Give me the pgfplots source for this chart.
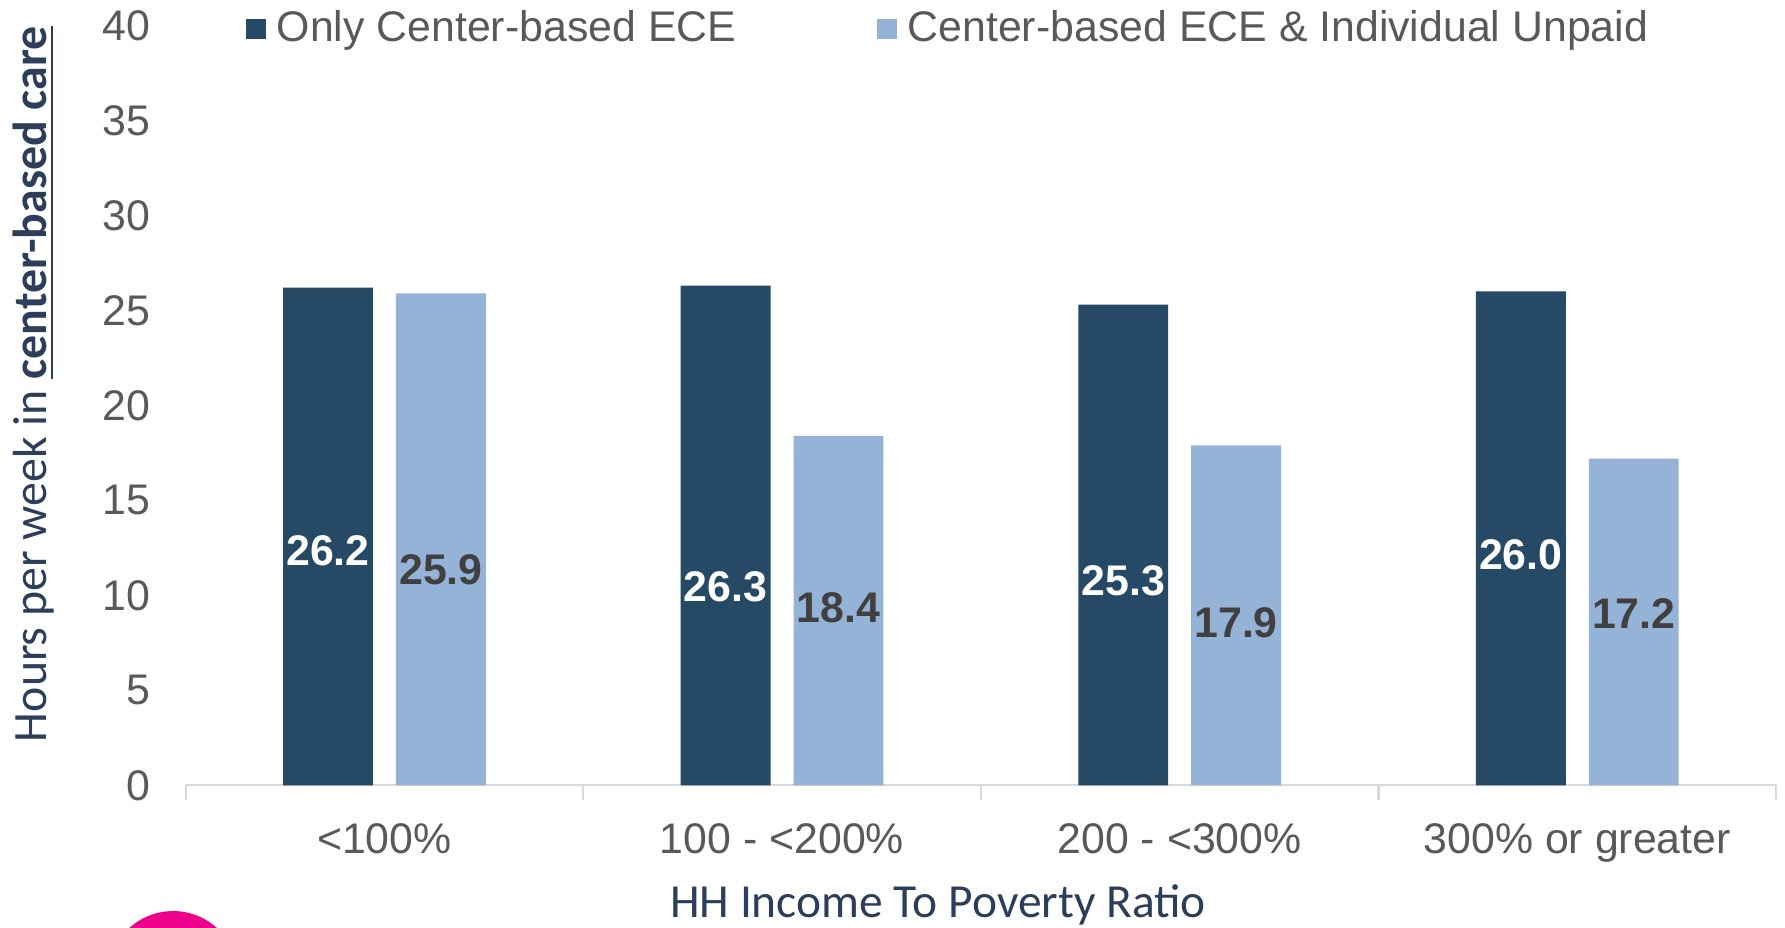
\documentclass[border=0pt]{standalone}
\usepackage{pgfplots}
\pgfplotsset{compat=1.18}
\usepackage{fontspec}
\setmainfont{Liberation Sans}
\newfontfamily\calib{Carlito}

\definecolor{darkbar}{HTML}{264A65}
\definecolor{lightbar}{HTML}{95B3D7}
\definecolor{ticktext}{HTML}{595959}
\definecolor{labtext}{HTML}{2D3E5A}
\definecolor{valgray}{HTML}{404040}
\definecolor{axisgray}{HTML}{D9D9D9}
\definecolor{logopink}{HTML}{EC008C}

\begin{document}
\begin{tikzpicture}
\useasboundingbox (0,0) rectangle (500pt,259.7pt);
\begin{axis}[
    at={(52pt,39.7pt)}, anchor=south west,
    scale only axis,
    width=445.5pt, height=212.9pt,
    xmin=-0.5, xmax=3.5,
    ymin=0, ymax=40,
    ytick={0,5,...,40},
    xtick={0,1,2,3},
    xticklabels={{<100\%},{100 - <200\%},{200 - <300\%},{300\% or greater}},
    minor xtick={-0.5,0.5,1.5,2.5,3.5},
    axis x line*=bottom,
    axis y line*=left,
    y axis line style={draw=none},
    x axis line style={draw=axisgray, line width=0.6pt},
    xtick style={draw=none},
    ytick style={draw=none},
    minor x tick style={draw=axisgray, line width=0.6pt},
    minor tick length=4pt,
    tick align=outside,
    /pgf/number format/assume math mode=true,
    ticklabel style={font=\fontsize{12}{14}\selectfont, text=ticktext},
    yticklabel style={xshift=-2pt},
    xticklabel style={yshift=-3pt},
    xlabel={HH Income To Poverty Ratio},
    xlabel style={at={(axis description cs:0.5,0)}, anchor=center,
        yshift=-33.5pt, xshift=-12pt,
        font=\calib\fontsize{13.3}{15}\selectfont, text=labtext},
    ylabel={Hours per week in \underline{\textbf{center-based care}}},
    ylabel style={at={(axis description cs:-0.0954,0.528)}, anchor=center,
        font=\calib\fontsize{13.4}{15}\selectfont, text=labtext},
    legend columns=2,
    legend style={at={(axis description cs:0.031,1)}, anchor=west, yshift=-1pt,
        draw=none, fill=none,
        font=\fontsize{12}{14}\selectfont, text=ticktext,
        /tikz/every even column/.append style={column sep=38pt},
        nodes={inner sep=1.5pt}},
    legend image code/.code={\fill[#1] (0pt,-2.7pt) rectangle (5.4pt,2.7pt);},
    /tikz/every odd column/.append style={column sep=1.6pt},
]
\addplot[ybar, bar width=0.226, bar shift=-0.142, fill=darkbar, draw=none]
    coordinates {(0,26.2) (1,26.3) (2,25.3) (3,26.0)};
\addlegendentry{Only Center-based ECE}
\addplot[ybar, bar width=0.226, bar shift=0.142, fill=lightbar, draw=none]
    coordinates {(0,25.9) (1,18.4) (2,17.9) (3,17.2)};
\addlegendentry{Center-based ECE \& Individual Unpaid}

% value labels, placed where the source put them inside the bars
\addplot[draw=none, forget plot, nodes near coords, point meta=explicit symbolic,
    every node near coord/.style={anchor=center, text=white,
        font=\bfseries\fontsize{12}{14}\selectfont}]
    coordinates {(-0.142,12.36)[26.2] (0.858,10.45)[26.3] (1.858,10.75)[25.3] (2.858,12.12)[26.0]};
\addplot[draw=none, forget plot, nodes near coords, point meta=explicit symbolic,
    every node near coord/.style={anchor=center, text=valgray,
        font=\bfseries\fontsize{12}{14}\selectfont}]
    coordinates {(0.142,11.34)[25.9] (1.142,9.37)[18.4] (2.142,8.54)[17.9] (3.142,9.07)[17.2]};
\end{axis}
\begin{scope}
\clip (0,0) rectangle (500pt,259.7pt);
\fill[logopink] (48.5pt,-13.7pt) circle (18.2pt);
\draw[white, opacity=0.5, line width=1.2pt] (44pt,-1pt) arc (100:200:8pt);
\end{scope}
\end{tikzpicture}
\end{document}
